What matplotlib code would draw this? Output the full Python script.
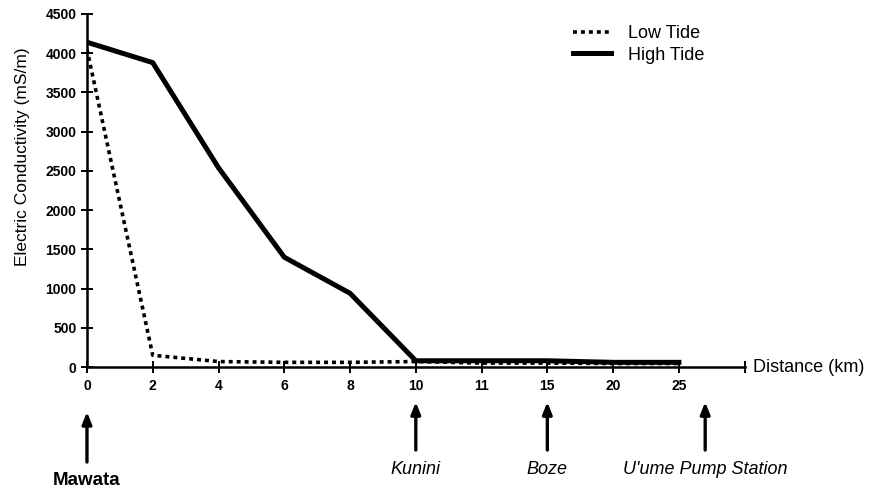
import matplotlib
matplotlib.use("Agg")
import matplotlib.pyplot as plt
import matplotlib.transforms as mtransforms

plt.rcParams['font.family'] = ['Liberation Sans', 'DejaVu Sans']

distance_labels = ["0", "2", "4", "6", "8", "10", "11", "15", "20", "25"]
high_tide = [4140, 3880, 2540, 1400, 940, 80, 80, 80, 60, 60]
low_tide = [4050, 150, 70, 60, 60, 70, 50, 50, 45, 45]
stations = ["Mawata", "Kunini", "Boze", "U'ume Pump Station"]
station_at = ["0", "10", "15", None]
y_ticks = [0, 500, 1000, 1500, 2000, 2500, 3000, 3500, 4000, 4500]

fig = plt.figure(figsize=(8.74, 4.94), dpi=100)
ax = fig.add_axes([0.0995, 0.257, 0.7525, 0.7147])

xs = list(range(len(distance_labels)))
ax.plot(xs, low_tide, color='black', lw=2.6, linestyle=(0, (1.1, 1.1)),
        label='Low Tide', zorder=3)
ax.plot(xs, high_tide, color='black', lw=3.6, label='High Tide', zorder=4)

ax.set_xlim(0, len(distance_labels))
ax.set_ylim(0, 4500)
ax.set_xticks(xs + [len(distance_labels)])
ax.set_xticklabels(distance_labels + [""])
ax.set_yticks(y_ticks)
ax.set_yticklabels([str(v) for v in y_ticks])
ax.tick_params(direction='inout', length=9, width=1.4, labelsize=10, pad=3,
               colors='black')
ax.tick_params(axis='x', pad=4)
for lab in ax.get_xticklabels() + ax.get_yticklabels():
    lab.set_fontweight('bold')
for s in ['top', 'right']:
    ax.spines[s].set_visible(False)
for s in ['left', 'bottom']:
    ax.spines[s].set_linewidth(1.8)

ax.set_ylabel("Electric Conductivity (mS/m)", fontsize=12.5)
ax.yaxis.set_label_coords(-0.086, 0.595)
ax.text(1.012, 0.0, "Distance (km)", transform=ax.transAxes, fontsize=13,
        va='center', ha='left')

leg = ax.legend(loc='upper left', bbox_to_anchor=(0.715, 1.014), frameon=False,
                fontsize=13, handlelength=2.1, handletextpad=0.9,
                labelspacing=0.25)

trans = mtransforms.blended_transform_factory(ax.transData, ax.transAxes)
for name, at in zip(stations, station_at):
    x = distance_labels.index(at) if at is not None else len(distance_labels) - 0.6
    first = name == stations[0]
    y_tip, y_tail, y_lab = (-0.127, -0.269, -0.32) if first else (-0.099, -0.235, -0.289)
    ax.annotate("", xy=(x, y_tip), xytext=(x, y_tail), xycoords=trans,
                textcoords=trans,
                arrowprops=dict(arrowstyle='-|>,head_length=0.7,head_width=0.28',
                                color='black', lw=2.4, shrinkA=0, shrinkB=0),
                annotation_clip=False)
    ax.text(x, y_lab, name, transform=trans, ha='center', va='center',
            fontsize=13.5 if first else 13,
            fontstyle='normal' if first else 'italic',
            fontweight='bold' if first else 'normal')

fig.savefig("out.png", dpi=100)
